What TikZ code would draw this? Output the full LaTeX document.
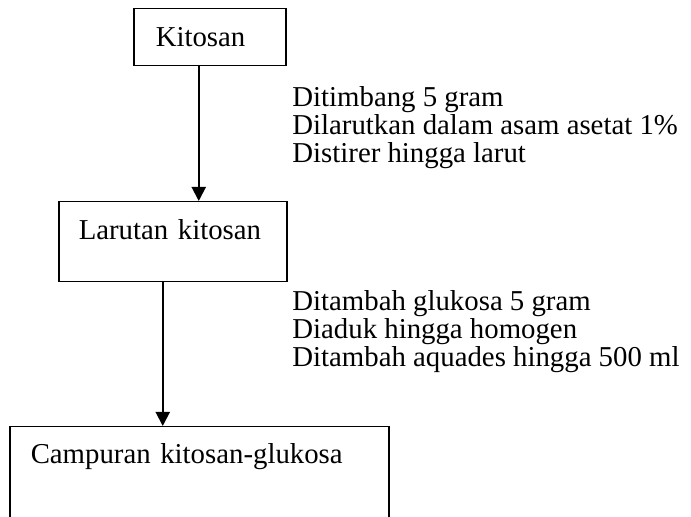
\documentclass[tikz,border=0pt]{standalone}
\usepackage{fontspec}
\setmainfont{Liberation Serif}
\usetikzlibrary{arrows.meta,positioning}
\tikzset{kotak/.style={
    rectangle,draw=black,line width=0.75pt,
    align=left,inner ysep=0pt,
    font=\fontsize{14.4}{14.2}\selectfont}}
\tikzset{keterangan/.style={
    align=left,inner sep=0pt,anchor=base west,
    font=\fontsize{14.4}{14.2}\selectfont}}
\tikzset{panah/.style={line width=1pt,-{Triangle[width=7pt,length=7pt]}}}

\begin{document}
\begin{tikzpicture}[x=0.5pt,y=-0.5pt]
  \useasboundingbox (0,0) rectangle (691,517);
  \clip (0,0) rectangle (691,517);

  \node (kitosan)  [kotak,anchor=north west,inner xsep=11pt,text width=54pt,
                    text height=19pt,text depth=9.5pt] at (133,8) {Kitosan};
  \node (larutan)  [kotak,anchor=north west,inner xsep=10pt,text width=94pt,
                    text height=19pt,text depth=21pt] at (58,201) {Larutan kitosan};
  \node (campuran) [kotak,anchor=north west,inner xsep=10.5pt,text width=168.5pt,
                    text height=18.5pt,text depth=60pt] at (9,426) {Campuran kitosan-glukosa};

  % anchor base = baris terakhir
  \node (langkah1) [keterangan] at (292,163) {Ditimbang 5 gram\\Dilarutkan dalam asam asetat 1\%\\Distirer hingga larut};
  \node (langkah2) [keterangan] at (292,367) {Ditambah glukosa 5 gram\\Diaduk hingga homogen\\Ditambah aquades hingga 500 ml};

  \draw [panah] ([xshift=-5.5pt]kitosan.south) -- ([xshift=-5.5pt]kitosan.south |- larutan.north);
  \draw [panah] ([xshift=-5pt]larutan.south) -- ([xshift=-5pt]larutan.south |- campuran.north);

\end{tikzpicture}
\end{document}
